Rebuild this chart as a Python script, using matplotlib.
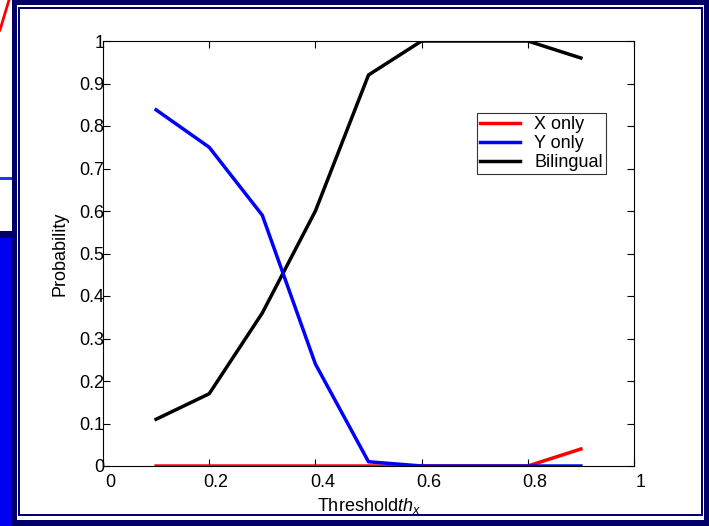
import matplotlib
matplotlib.use("Agg")
import matplotlib.pyplot as plt
import matplotlib.transforms as mtransforms
from matplotlib.patches import Rectangle
from matplotlib.lines import Line2D

plt.rcParams['font.family'] = ['Liberation Sans', 'DejaVu Sans']
plt.rcParams['mathtext.fontset'] = 'custom'
plt.rcParams['mathtext.it'] = 'Liberation Sans:italic'
plt.rcParams['mathtext.rm'] = 'Liberation Sans'

# threshold values and probabilities
thresholds = [0.1, 0.2, 0.3, 0.4, 0.5, 0.6, 0.7, 0.8, 0.9]
x_only = [0, 0, 0, 0, 0, 0, 0, 0, 0.04]
y_only = [0.838, 0.75, 0.59, 0.24, 0.01, 0, 0, 0, 0]
bilingual = [0.11, 0.17, 0.36, 0.60, 0.92, 1.0, 1.0, 1.0, 0.96]
labels = ["X only", "Y only", "Bilingual"]

W, H = 709, 526
fig = plt.figure(figsize=(W / 100, H / 100), dpi=100)
fig.patch.set_facecolor("white")

navy = "#000066"
def rect(x0, y0, x1, y1, color):
    # pixel coords, top-left origin
    fig.patches.append(Rectangle((x0 / W, 1 - y1 / H), (x1 - x0) / W, (y1 - y0) / H,
                                 transform=fig.transFigure, color=color, lw=0, zorder=0))

# slide leftovers on the left side
rect(0, 0, 12, 526, "white")
rect(0, 177, 12, 180, "#2233ff")
rect(0, 231, 12, 238, navy)
rect(0, 238, 12, 526, "#0000ee")
fig.lines.append(Line2D([0, 9 / W], [1 - 30 / H, 1], transform=fig.transFigure,
                        color="red", lw=2, zorder=1))
# outer navy frame
rect(12, 0, 709, 5, navy)
rect(12, 520, 709, 526, navy)
rect(12, 0, 17, 526, navy)
rect(704, 0, 709, 526, navy)
# inner thin navy frame
rect(18, 7, 703, 9, navy)
rect(18, 514, 703, 516, navy)
rect(18, 7, 20, 516, navy)
rect(701, 7, 703, 516, navy)

ax = fig.add_axes([103 / W, 1 - 466 / H, (634 - 103) / W, (466 - 41) / H])
ax.set_facecolor("white")
ax.plot(thresholds, x_only, color="red", lw=2.5, label=labels[0], zorder=3)
ax.plot(thresholds, y_only, color="blue", lw=2.5, label=labels[1], zorder=4)
ax.plot(thresholds, bilingual, color="black", lw=2.5, label=labels[2], zorder=2)

ax.set_xlim(0, 1)
ax.set_ylim(0, 1)
ax.set_xticks([0, 0.2, 0.4, 0.6, 0.8, 1])
ax.set_xticklabels(["0", "0.2", "0.4", "0.6", "0.8", "1"])
ax.set_yticks([i / 10 for i in range(11)])
ax.set_yticklabels(["0"] + ["0.%d" % i for i in range(1, 10)] + ["1"])
ax.tick_params(direction="in", length=5, labelsize=13, top=True, right=True)
ax.tick_params(axis="y", pad=-1)
ax.tick_params(axis="x", pad=6)
shift = mtransforms.ScaledTranslation(7 / 100, 0, fig.dpi_scale_trans)
for lbl in ax.get_xticklabels():
    lbl.set_transform(lbl.get_transform() + shift)
for s in ax.spines.values():
    s.set_linewidth(0.8)

ax.set_ylabel("Probability", fontsize=13, labelpad=8)
ax.set_xlabel(r"Threshold$th_x$", fontsize=13, labelpad=3)

leg = ax.legend(loc="upper left", bbox_to_anchor=(0.705, 0.83), fontsize=13,
                frameon=True, fancybox=False, borderpad=0.15, labelspacing=0.12,
                handlelength=2.2, handletextpad=0.8, borderaxespad=0)
leg.get_frame().set_edgecolor("black")
leg.get_frame().set_linewidth(0.8)

fig.savefig("out.png", dpi=100, facecolor=fig.get_facecolor())
